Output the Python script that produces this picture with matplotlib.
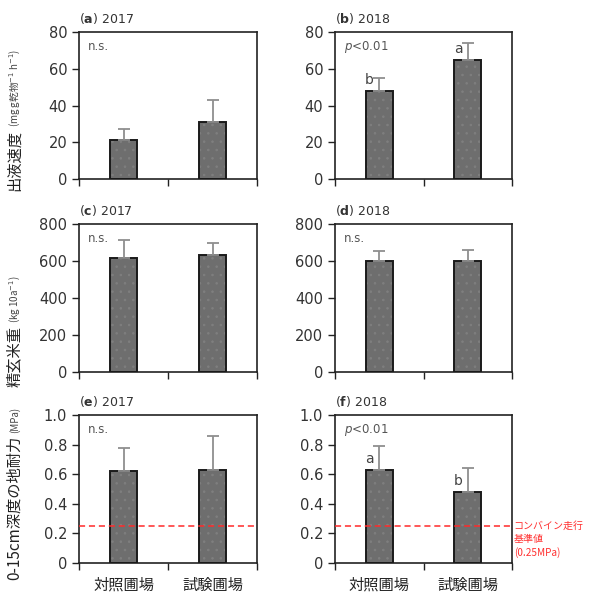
import numpy as np
import matplotlib
matplotlib.use("Agg")
import matplotlib.pyplot as plt

plt.rcParams['font.family'] = ['DejaVu Sans', 'Noto Sans CJK JP']
plt.rcParams['hatch.linewidth'] = 0.6

# field names and per-panel data (mean, upper SD)
fields = ['対照圃場', '試験圃場']

bleed_2017 = [21, 31]
bleed_2017_err = [6, 12]
bleed_2018 = [48, 65]
bleed_2018_err = [7, 9]

yield_2017 = [615, 630]
yield_2017_err = [100, 70]
yield_2018 = [600, 600]
yield_2018_err = [55, 60]

bearing_2017 = [0.62, 0.63]
bearing_2017_err = [0.16, 0.23]
bearing_2018 = [0.63, 0.48]
bearing_2018_err = [0.16, 0.16]

combine_limit = 0.25

panels = [
    ('a', '2017', bleed_2017, bleed_2017_err, 'n.s.', None),
    ('b', '2018', bleed_2018, bleed_2018_err, 'p', ['b', 'a']),
    ('c', '2017', yield_2017, yield_2017_err, 'n.s.', None),
    ('d', '2018', yield_2018, yield_2018_err, 'n.s.', None),
    ('e', '2017', bearing_2017, bearing_2017_err, 'n.s.', None),
    ('f', '2018', bearing_2018, bearing_2018_err, 'p', ['a', 'b']),
]
row_ylim = [(0, 80), (0, 800), (0, 1.0)]
row_yticks = [[0, 20, 40, 60, 80], [0, 200, 400, 600, 800],
              [0, 0.2, 0.4, 0.6, 0.8, 1.0]]
row_ylabels = [('出液速度', '(mg g乾物$^{-1}$ h$^{-1}$)'),
               ('精玄米重', '(kg 10a$^{-1}$)'),
               ('0-15cm深度の地耐力', '(MPa)')]

W, H = 590, 595
fig = plt.figure(figsize=(W / 100, H / 100), dpi=100)

col_x = [(79, 257), (335, 512)]
row_y = [(32, 179), (224, 372), (415, 563)]

txt_col = '#333333'
x = np.array([0.5, 1.5])

for i, (tag, year, vals, errs, note, letters) in enumerate(panels):
    r, c = divmod(i, 2)
    x0, x1 = col_x[c]
    y0, y1 = row_y[r]
    ax = fig.add_axes([x0 / W, 1 - y1 / H, (x1 - x0) / W, (y1 - y0) / H])

    # dotted grey fill, then solid outline on top
    ax.bar(x, vals, width=0.3, color='#6e6e6e', edgecolor='#7f7f7f',
           hatch='..', linewidth=0, zorder=2)
    ax.bar(x, vals, width=0.3, fill=False, edgecolor='#1a1a1a',
           linewidth=1.4, zorder=3)
    ax.errorbar(x, vals, yerr=[np.zeros(2), errs], fmt='none',
                ecolor='#8f8f8f', elinewidth=1.3, capsize=4.5, capthick=1.3,
                zorder=4)

    ax.set_xlim(0, 2)
    ax.set_ylim(*row_ylim[r])
    ax.set_yticks(row_yticks[r])
    if r == 2:
        ax.set_yticklabels(['0', '0.2', '0.4', '0.6', '0.8', '1.0'])
    ax.set_xticks([0, 1, 2])
    ax.set_xticklabels([])
    ax.tick_params(axis='both', which='major', direction='out', length=5,
                   width=1, color='#222222', labelsize=10.5,
                   labelcolor=txt_col)
    ax.set_xticks(x, minor=True)
    if r == 2:
        ax.set_xticklabels(fields, minor=True, fontsize=11,
                           family=['Noto Sans CJK JP'], color='#222222')
    ax.tick_params(axis='x', which='minor', length=0, pad=10)
    for sp in ax.spines.values():
        sp.set_linewidth(1.2)
        sp.set_color('#222222')

    ax.text(0, 1.04, f'($\\mathbf{{{tag}}}$) {year}', transform=ax.transAxes,
            ha='left', va='bottom', fontsize=9, color=txt_col)
    if note == 'p':
        ax.text(0.05, 0.9, '$p$<0.01', transform=ax.transAxes, ha='left',
                va='center', fontsize=8.5, color='#555555')
    else:
        ax.text(0.05, 0.9, note, transform=ax.transAxes, ha='left',
                va='center', fontsize=8.5, color='#555555')

    if letters:
        for xi, v, lab in zip(x, vals, letters):
            ax.annotate(lab, (xi, v), xytext=(-7, 2.5),
                        textcoords='offset points', ha='center',
                        va='bottom', fontsize=10, color='#444444', zorder=5)

    if r == 2:
        ax.axhline(combine_limit, color='#ff2a2a', linestyle=(0, (4, 2.5)),
                   linewidth=1.1, zorder=5)
        if c == 1:
            ax.text(1.01, combine_limit + 0.035, 'コンバイン走行\n基準値\n(0.25MPa)',
                    transform=ax.get_yaxis_transform(), ha='left', va='top',
                    fontsize=7.2, color='#ff3030', linespacing=1.35,
                    family=['Noto Sans CJK JP', 'DejaVu Sans'], clip_on=False)

# rotated row labels: main part below, units above in smaller type
label_split = [130, 326, 436]
for (main, unit), ys in zip(row_ylabels, label_split):
    fig.text(14 / W, 1 - ys / H, main, rotation=90, ha='center', va='top',
             fontsize=11, color='#222222',
             family=['Noto Sans CJK JP', 'DejaVu Sans'])
    fig.text(15 / W, 1 - (ys - 3) / H, unit, rotation=90, ha='center',
             va='bottom', fontsize=7, color='#444444',
             family=['Noto Sans CJK JP', 'DejaVu Sans'])

fig.savefig('out.png', dpi=100)
